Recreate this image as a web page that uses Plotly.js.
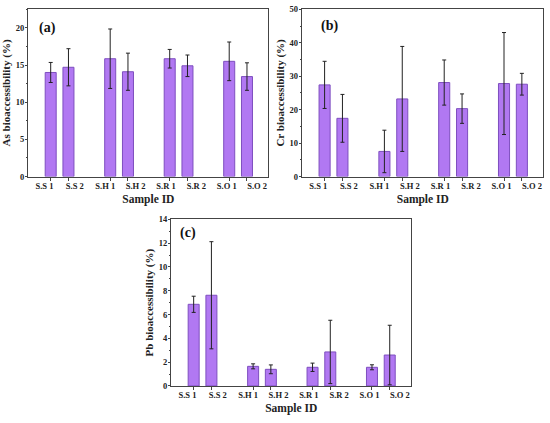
<!DOCTYPE html>
<html>
<head>
<meta charset="utf-8">
<script src="https://cdn.plot.ly/plotly-3.0.1.min.js"></script>
<style>html,body{margin:0;padding:0;background:#fff;}#chart{width:550px;height:423px;}</style>
</head>
<body>
<div id="chart"></div>
<script>
// Data
const sampleLabels = ["S.S 1","S.S 2","S.H 1","S.H 2","S.R 1","S.R 2","S.O 1","S.O 2"];

const asValues = [14.0, 14.7, 15.85, 14.1, 15.85, 14.9, 15.5, 13.45];
const asErrors = [1.35, 2.5, 4.0, 2.5, 1.25, 1.45, 2.6, 1.85];

const crValues = [27.4, 17.4, 7.5, 23.2, 28.1, 20.3, 27.8, 27.6];
const crErrors = [7.05, 7.15, 6.35, 15.7, 6.75, 4.4, 15.25, 3.25];

const pbValues = [6.86, 7.62, 1.65, 1.4, 1.57, 2.86, 1.57, 2.6];
const pbErrors = [0.68, 4.5, 0.21, 0.37, 0.35, 2.66, 0.21, 2.5];

const yTitles = ["As bioaccessibility (%)", "Cr bioaccessibility (%)", "Pb bioaccessibility (%)"];
const panelLabels = ["(a)", "(b)", "(c)"];

// Layout of the numeric x axis (bars grouped in pairs, labels evenly spaced)
const barPos = sampleLabels.map((_, i) => 1 + Math.floor(i / 2) * 3.35 + (i % 2));
const labelPos = sampleLabels.map((_, i) => 0.65 + i * 1.71);
const X_RANGE = [-0.25, 13.25];

const FONT = "Liberation Serif";
const fillColor = "#B178F2";
const lineColor = "#7E4FBF";
const axisColor = "#444";

function barTrace(vals, errs, xa, ya) {
  return {
    type: "bar",
    x: barPos,
    y: vals,
    xaxis: xa, yaxis: ya,
    width: 0.62,
    marker: {color: fillColor, line: {color: lineColor, width: 1}},
    error_y: {type: "data", array: errs, visible: true, color: "#222", thickness: 1, width: 2},
    showlegend: false,
    hoverinfo: "skip"
  };
}

// invisible trace so that the label axis is drawn
function labelAxisTrace(xa, ya) {
  return {
    type: "scatter", mode: "markers",
    x: labelPos, y: labelPos.map(() => 0),
    xaxis: xa, yaxis: ya,
    marker: {opacity: 0, size: 1},
    showlegend: false, hoverinfo: "skip"
  };
}

// axis carrying the frame and tick marks (at the bars)
function xAxis(domain, anchor) {
  return {
    domain: domain, anchor: anchor,
    range: X_RANGE,
    tickmode: "array", tickvals: barPos, showticklabels: false,
    ticks: "outside", ticklen: 3, tickwidth: 1, tickcolor: axisColor,
    showline: true, linecolor: axisColor, linewidth: 1, mirror: true,
    showgrid: false, zeroline: false,
    fixedrange: true
  };
}

// overlay axis carrying the evenly spaced tick labels and the title
function xLabelAxis(over, anchor) {
  return {
    overlaying: over, anchor: anchor, side: "bottom",
    range: X_RANGE,
    tickmode: "array", tickvals: labelPos, ticktext: sampleLabels,
    tickangle: 0, ticks: "", ticklabelstandoff: 3,
    showline: false, showgrid: false, zeroline: false,
    tickfont: {family: FONT, size: 8.5, color: "#222", weight: "bold"},
    title: {text: "<b>Sample ID</b>", font: {family: FONT, size: 11.5, color: "#222"}, standoff: 4},
    fixedrange: true
  };
}

function yAxis(domain, anchor, range, dtick, title) {
  return {
    domain: domain, anchor: anchor,
    range: range, dtick: dtick,
    ticks: "outside", ticklen: 2.5, tickwidth: 1, tickcolor: axisColor,
    minor: {dtick: dtick / 2, ticks: "outside", ticklen: 1.5, tickcolor: axisColor, showgrid: false},
    showline: true, linecolor: axisColor, linewidth: 1, mirror: true,
    showgrid: false, zeroline: false,
    ticklabelstandoff: -1,
    tickfont: {family: FONT, size: 8.5, color: "#222", weight: "bold"},
    title: {text: "<b>" + title + "</b>", font: {family: FONT, size: 11, color: "#222"}, standoff: 2},
    fixedrange: true
  };
}

const yTop = [0.5827, 0.978];
const yBot = [0.0875, 0.4816];

const data = [
  barTrace(asValues, asErrors, "x", "y"),
  barTrace(crValues, crErrors, "x2", "y2"),
  barTrace(pbValues, pbErrors, "x3", "y3"),
  labelAxisTrace("x4", "y"),
  labelAxisTrace("x5", "y2"),
  labelAxisTrace("x6", "y3")
];

const labelFont = {family: FONT, size: 14, color: "#111"};

const layout = {
  width: 550, height: 423,
  margin: {l: 0, r: 0, t: 0, b: 0},
  paper_bgcolor: "#fff", plot_bgcolor: "#fff",
  bargap: 0,
  xaxis: xAxis([0.0518, 0.4878], "y"),
  yaxis: yAxis(yTop, "x", [0, 22.5], 5, yTitles[0]),
  xaxis2: xAxis([0.5496, 0.9878], "y2"),
  yaxis2: yAxis(yTop, "x2", [0, 50], 10, yTitles[1]),
  xaxis3: xAxis([0.3118, 0.7473], "y3"),
  yaxis3: yAxis(yBot, "x3", [0, 14], 2, yTitles[2]),
  xaxis4: xLabelAxis("x", "y"),
  xaxis5: xLabelAxis("x2", "y2"),
  xaxis6: xLabelAxis("x3", "y3"),
  annotations: [
    {xref: "x domain", yref: "y domain", x: 0.045, y: 0.888, text: "<b>" + panelLabels[0] + "</b>", showarrow: false, xanchor: "left", yanchor: "middle", xshift: -2, font: labelFont},
    {xref: "x2 domain", yref: "y2 domain", x: 0.078, y: 0.9, text: "<b>" + panelLabels[1] + "</b>", showarrow: false, xanchor: "left", yanchor: "middle", xshift: -2, font: labelFont},
    {xref: "x3 domain", yref: "y3 domain", x: 0.035, y: 0.916, text: "<b>" + panelLabels[2] + "</b>", showarrow: false, xanchor: "left", yanchor: "middle", xshift: -2, font: labelFont}
  ]
};

Plotly.newPlot("chart", data, layout, {staticPlot: true, displayModeBar: false});
</script>
</body>
</html>
